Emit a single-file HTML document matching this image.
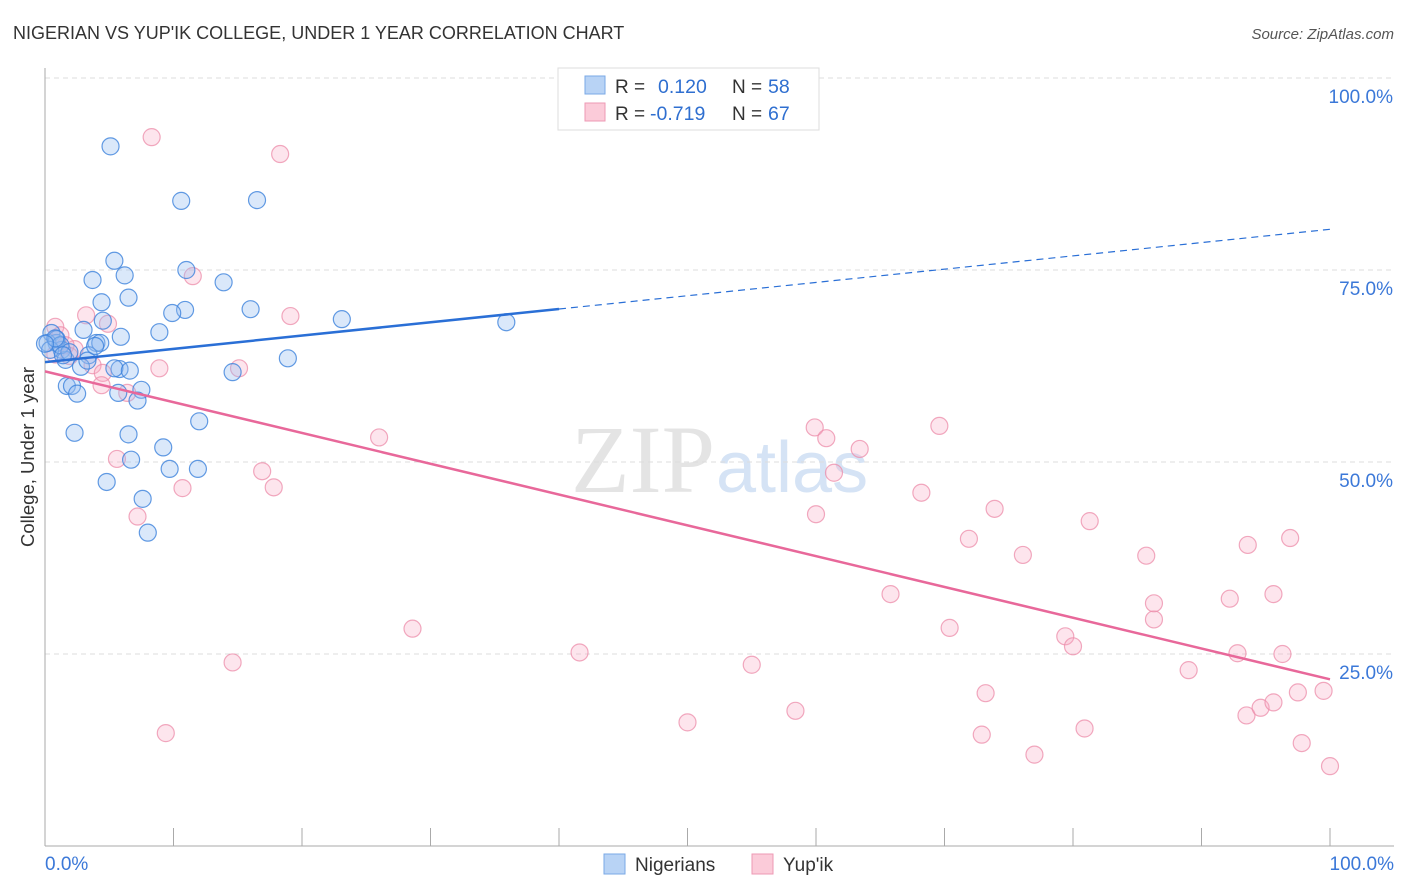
<!DOCTYPE html>
<html><head><meta charset="utf-8"><style>
body{margin:0;background:#fff;font-family:"Liberation Sans",sans-serif;}
svg{display:block}
</style></head><body>
<svg id="c" width="1406" height="892" xmlns="http://www.w3.org/2000/svg">
<text x="13" y="39" font-size="18" fill="#333">NIGERIAN VS YUP'IK COLLEGE, UNDER 1 YEAR CORRELATION CHART</text>
<text x="1394" y="39" font-size="15" fill="#555" text-anchor="end" font-style="italic">Source: ZipAtlas.com</text>
<text x="715" y="492" font-size="96" fill="#e4e4e4" text-anchor="end" font-family="Liberation Serif,serif">ZIP</text>
<text x="716" y="492" font-size="72" fill="#d5e3f5">atlas</text>
<g id="grid"></g><g id="pts"></g><g id="lines"></g>
<text transform="translate(34,457) rotate(-90)" font-size="18.5" fill="#333" text-anchor="middle">College, Under 1 year</text>
<g>
<rect x="558" y="68" width="261" height="62" fill="#fff" stroke="#ddd"/>
<rect x="585" y="76" width="20" height="18" fill="#b8d3f5" stroke="#7aa8e6"/>
<rect x="585" y="103" width="20" height="18" fill="#fbcbd9" stroke="#ee9ab4"/>
<text x="615" y="93" font-size="19" fill="#333">R = </text><text x="658" y="93" font-size="19.5" fill="#2f6fd0">0.120</text>
<text x="732" y="93" font-size="19" fill="#333">N = </text><text x="768" y="93" font-size="19.5" fill="#2f6fd0">58</text>
<text x="615" y="120" font-size="19" fill="#333">R = </text><text x="650" y="120" font-size="19.5" fill="#2f6fd0">-0.719</text>
<text x="732" y="120" font-size="19" fill="#333">N = </text><text x="768" y="120" font-size="19.5" fill="#2f6fd0">67</text>
</g>
<g>
<rect x="604" y="854" width="21" height="20" fill="#b8d3f5" stroke="#7aa8e6"/>
<text x="635" y="871" font-size="19" fill="#333">Nigerians</text>
<rect x="752" y="854" width="21" height="20" fill="#fbcbd9" stroke="#ee9ab4"/>
<text x="783" y="871" font-size="19" fill="#333">Yup'ik</text>
</g>
</svg>
<script>
const yTicks=[100,75,50,25];
const yTickLabels=["100.0%","75.0%","50.0%","25.0%"];
const xTickLabels=["0.0%","100.0%"];
const blueX=[5.1,10.6,16.5,5.4,11.0,3.7,6.2,13.9,4.4,6.5,16.0,10.9,9.9,23.1,35.9,4.5,8.9,3.0,5.9,0.5,4.0,4.3,0.9,0.2,1.3,3.4,1.6,2.8,5.8,5.4,14.6,18.9,7.5,5.7,1.7,2.1,2.5,7.2,12.0,2.3,6.5,9.2,6.7,9.7,11.9,4.8,7.6,8.0,0.9,0.4,1.2,1.9,3.3,3.9,0.8,1.4,6.6,0.0];
const blueY=[91.1,84.0,84.1,76.2,75.0,73.7,74.3,73.4,70.8,71.4,69.9,69.8,69.4,68.6,68.2,68.4,66.9,67.2,66.3,66.8,65.5,65.5,65.5,65.5,64.6,63.9,63.3,62.4,62.1,62.2,61.7,63.5,59.4,59.0,59.9,59.9,58.9,58.0,55.3,53.8,53.6,51.9,50.3,49.1,49.1,47.4,45.2,40.8,66.0,64.6,65.2,64.3,63.2,65.1,66.1,63.9,61.9,65.4];
const pinkX=[8.3,18.3,11.5,19.1,3.2,4.9,0.8,1.2,2.3,3.7,4.5,8.9,15.1,6.4,4.4,0.8,1.6,1.9,26.0,5.6,16.9,17.8,10.7,7.2,28.6,14.6,9.4,41.6,50.0,55.0,58.4,59.9,60.8,63.4,61.4,60.0,69.6,68.2,71.9,73.9,70.4,65.8,73.2,72.9,76.1,81.3,85.7,79.4,80.0,77.0,80.9,86.3,86.3,89.0,92.2,93.6,96.9,95.6,92.8,96.3,93.5,94.6,95.6,97.5,99.5,97.8,100.0];
const pinkY=[92.3,90.1,74.2,69.0,69.1,68.0,67.6,66.5,64.7,62.6,61.6,62.2,62.2,59.0,60.0,64.0,65.2,63.8,53.2,50.4,48.8,46.7,46.6,42.9,28.3,23.9,14.7,25.2,16.1,23.6,17.6,54.5,53.1,51.7,48.6,43.2,54.7,46.0,40.0,43.9,28.4,32.8,19.9,14.5,37.9,42.3,37.8,27.3,26.0,11.9,15.3,29.5,31.6,22.9,32.2,39.2,40.1,32.8,25.1,25.0,17.0,18.0,18.7,20.0,20.2,13.4,10.4];
const blueTrend=[63.0,80.3];const blueSolidEnd=40;
const pinkTrend=[61.8,21.7];
const X0=45,X1=1330,Y0=846,Y100=78;
const sx=v=>X0+(X1-X0)*v/100, sy=v=>Y0-(Y0-Y100)*v/100;
const NS="http://www.w3.org/2000/svg";
function mk(t,a,p){const e=document.createElementNS(NS,t);for(const k in a)e.setAttribute(k,a[k]);p.appendChild(e);return e;}
const g=document.getElementById('grid');
yTicks.forEach((t,i)=>{
 const l=mk('line',{x1:X0,x2:1394,y1:sy(t),y2:sy(t),stroke:'#ddd','stroke-dasharray':'5,4'},g);
 
 
 const tx=mk('text',{x:1393,y:sy(t)+25,'font-size':19,fill:'#3b78d8','text-anchor':'end'},g);
 tx.textContent=yTickLabels[i];
 
 
});
const ax=mk('line',{x1:X0,x2:X0,y1:68,y2:Y0,stroke:'#aaa'},g);


const bx=mk('line',{x1:X0,x2:1394,y1:Y0,y2:Y0,stroke:'#aaa'},g);


for(let i=1;i<=10;i++){const t=mk('line',{x1:sx(i*10),x2:sx(i*10),y1:Y0-18,y2:Y0,stroke:'#aaa'},g);
 
 }
[[0,'start',45],[100,'end',1394]].forEach((d,i)=>{const t=mk('text',{x:d[2],y:870,'font-size':19,fill:'#3b78d8','text-anchor':d[1]},g);t.textContent=xTickLabels[i];
 
 });
const pg=document.getElementById('pts');
pinkX.forEach((x,i)=>{const c=mk('circle',{cx:sx(x),cy:sy(pinkY[i]),r:8.5,fill:'rgba(247,170,195,0.3)',stroke:'rgba(236,140,170,0.75)','stroke-width':1.2},pg);
 
 });
blueX.forEach((x,i)=>{const c=mk('circle',{cx:sx(x),cy:sy(blueY[i]),r:8.5,fill:'rgba(150,190,240,0.35)',stroke:'rgba(60,130,220,0.8)','stroke-width':1.2},pg);
 
 });
const lg=document.getElementById('lines');
const bAt=x=>blueTrend[0]+(blueTrend[1]-blueTrend[0])*x/100;
let l1=mk('line',{x1:sx(0),y1:sy(bAt(0)),x2:sx(blueSolidEnd),y2:sy(bAt(blueSolidEnd)),stroke:'#2a6fd6','stroke-width':2.5},lg);


let l2=mk('line',{x1:sx(blueSolidEnd),y1:sy(bAt(blueSolidEnd)),x2:sx(100),y2:sy(bAt(100)),stroke:'#2a6fd6','stroke-width':1.2,'stroke-dasharray':'7,5'},lg);


let l3=mk('line',{x1:sx(0),y1:sy(pinkTrend[0]),x2:sx(100),y2:sy(pinkTrend[1]),stroke:'#e8689a','stroke-width':2.5},lg);


</script>
</body></html>
